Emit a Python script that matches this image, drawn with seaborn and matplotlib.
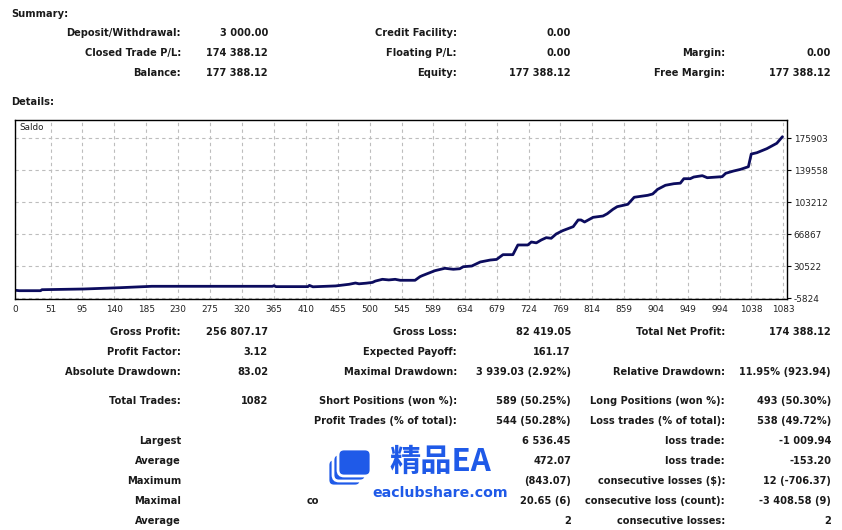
import matplotlib
matplotlib.use("Agg")
import matplotlib.pyplot as plt
from matplotlib.patches import FancyBboxPatch
import seaborn as sns
import pandas as pd

# ---------------- data ----------------
trade_no = [0, 6, 36, 38, 97, 148, 193, 363, 365, 368, 413, 415, 420, 452, 471, 480, 485,
            495, 504, 508, 518, 527, 536, 543, 564, 571, 574, 592, 606, 618, 627, 632, 644,
            656, 670, 679, 688, 702, 709, 723, 728, 735, 742, 749, 756, 763, 772, 787, 794,
            798, 803, 815, 829, 835, 843, 849, 864, 873, 892, 899, 906, 917, 929, 938, 943,
            952, 957, 969, 976, 997, 1002, 1013, 1023, 1034, 1038, 1046, 1060, 1074, 1082]
balance = [3000, 2470, 2470, 3600, 4400, 5880, 7470, 7470, 8200, 7100, 7100, 8500, 6900,
           7900, 9740, 11200, 10300, 11000, 11900, 13400, 15400, 14700, 15400, 14300, 14300,
           18400, 19500, 25200, 27900, 26800, 27400, 29700, 30500, 35100, 37300, 38000, 43400,
           43400, 54400, 54400, 57800, 56800, 60100, 62700, 62000, 66900, 70600, 75200, 82800,
           82800, 80500, 85800, 87300, 89900, 94900, 97900, 100600, 108600, 110800, 112300,
           117600, 122200, 124000, 124600, 129700, 129700, 131600, 133100, 130800, 132000,
           135800, 138400, 140300, 143300, 157700, 159200, 163800, 169900, 177388]

x_ticks = [0, 51, 95, 140, 185, 230, 275, 320, 365, 410, 455, 500, 545, 589, 634, 679,
           724, 769, 814, 859, 904, 949, 994, 1038, 1083]
y_ticks = [-5824, 30522, 66867, 103212, 139558, 175903]

summary_labels_1 = ["Deposit/Withdrawal:", "Closed Trade P/L:", "Balance:"]
summary_values_1 = ["3 000.00", "174 388.12", "177 388.12"]
summary_labels_2 = ["Credit Facility:", "Floating P/L:", "Equity:"]
summary_values_2 = ["0.00", "0.00", "177 388.12"]
summary_labels_3 = ["", "Margin:", "Free Margin:"]
summary_values_3 = ["", "0.00", "177 388.12"]

detail_labels_1 = ["Gross Profit:", "Profit Factor:", "Absolute Drawdown:", "Total Trades:", "",
                   "Largest", "Average", "Maximum", "Maximal", "Average"]
detail_values_1 = ["256 807.17", "3.12", "83.02", "1082", "", "", "", "", "", ""]
detail_labels_2 = ["Gross Loss:", "Expected Payoff:", "Maximal Drawdown:", "Short Positions (won %):",
                   "Profit Trades (% of total):", "", "", "", "", ""]
detail_values_2 = ["82 419.05", "161.17", "3 939.03 (2.92%)", "589 (50.25%)", "544 (50.28%)",
                   "6 536.45", "472.07", "(843.07)", "20.65 (6)", "2"]
detail_labels_3 = ["Total Net Profit:", "", "Relative Drawdown:", "Long Positions (won %):",
                   "Loss trades (% of total):", "loss trade:", "loss trade:",
                   "consecutive losses ($):", "consecutive loss (count):", "consecutive losses:"]
detail_values_3 = ["174 388.12", "", "11.95% (923.94)", "493 (50.30%)", "538 (49.72%)",
                   "-1 009.94", "-153.20", "12 (-706.37)", "-3 408.58 (9)", "2"]

# ---------------- figure ----------------
sns.set_theme(style="white")
plt.rcParams['font.family'] = ['DejaVu Sans']
W, H = 842, 530
fig = plt.figure(figsize=(W / 100, H / 100), dpi=100)
fig.patch.set_facecolor("white")

# overlay axes in pixel coordinates for text
ov = fig.add_axes([0, 0, 1, 1])
ov.set_xlim(0, W)
ov.set_ylim(H, 0)
ov.axis("off")

# chart axes
ax_l, ax_r, ax_t, ax_b = 15, 786.7, 120, 299.3
ax = fig.add_axes([ax_l / W, 1 - ax_b / H, (ax_r - ax_l) / W, (ax_b - ax_t) / H])
df = pd.DataFrame({"trade": trade_no, "balance": balance})
sns.lineplot(data=df, x="trade", y="balance", ax=ax, color="#0c0c5e", lw=2.0)
ax.set_xlim(0, 1088)
ax.set_ylim(-7300, 196350)
ax.set_xticks(x_ticks)
ax.set_xticklabels([str(v) for v in x_ticks])
ax.set_yticks(y_ticks)
ax.set_yticklabels([str(v) for v in y_ticks])
ax.yaxis.tick_right()
ax.set_xlabel("")
ax.set_ylabel("")
ax.grid(True, color="#bdbdbd", linestyle=(0, (3, 3)), lw=0.8)
for s in ax.spines.values():
    s.set_visible(True)
    s.set_color("black")
    s.set_linewidth(1.0)
ax.tick_params(axis="x", length=0, pad=4, labelsize=6.4, colors="#222222")
ax.tick_params(axis="y", length=3, width=0.8, color="black", direction="out", pad=2,
               labelsize=6.4, labelcolor="#222222", right=True, left=False)
ax.text(4 / (ax_r - ax_l), 1 - 8 / (ax_b - ax_t), "Saldo", transform=ax.transAxes,
        fontsize=6.3, ha="left", va="center", color="#222222")

# ---------------- texts ----------------
tk = dict(fontsize=7.1, fontweight="bold", color="#1a1a1a", va="center")
ov.text(11, 14, "Summary:", ha="left", **tk)
ov.text(11, 102, "Details:", ha="left", **tk)

cols_x = [181, 268, 457, 571, 725, 831]
sum_y = [33, 53, 73]
for i, y in enumerate(sum_y):
    for x, s in zip(cols_x, [summary_labels_1[i], summary_values_1[i], summary_labels_2[i],
                             summary_values_2[i], summary_labels_3[i], summary_values_3[i]]):
        if s:
            ov.text(x, y, s, ha="right", **tk)

det_y = [332, 352, 372, 401, 421, 441, 461, 481, 501, 521]
for i, y in enumerate(det_y):
    for x, s in zip(cols_x, [detail_labels_1[i], detail_values_1[i], detail_labels_2[i],
                             detail_values_2[i], detail_labels_3[i], detail_values_3[i]]):
        if s:
            ov.text(x, y, s, ha="right", **tk)
ov.text(307, 501, "co", ha="left", **tk)

# ---------------- watermark ----------------
blue = "#1f5ae8"
for dx, dy in [(-10, 10), (-5, 5), (0, 0)]:
    p = FancyBboxPatch((338 + dx, 449 + dy), 33, 27, boxstyle="round,pad=0,rounding_size=6",
                       facecolor=blue, edgecolor="white", lw=2.0, zorder=5)
    ov.add_patch(p)
ov.text(389, 462, "精品EA", ha="left", va="center", fontsize=22.5, fontweight="bold",
        color=blue, family=["Noto Sans CJK SC", "DejaVu Sans"], zorder=6)
ov.text(372, 493, "eaclubshare.com", ha="left", va="center", fontsize=10.2, fontweight="bold",
        color=blue, zorder=6)

fig.savefig("out.png", dpi=100, facecolor="white")
